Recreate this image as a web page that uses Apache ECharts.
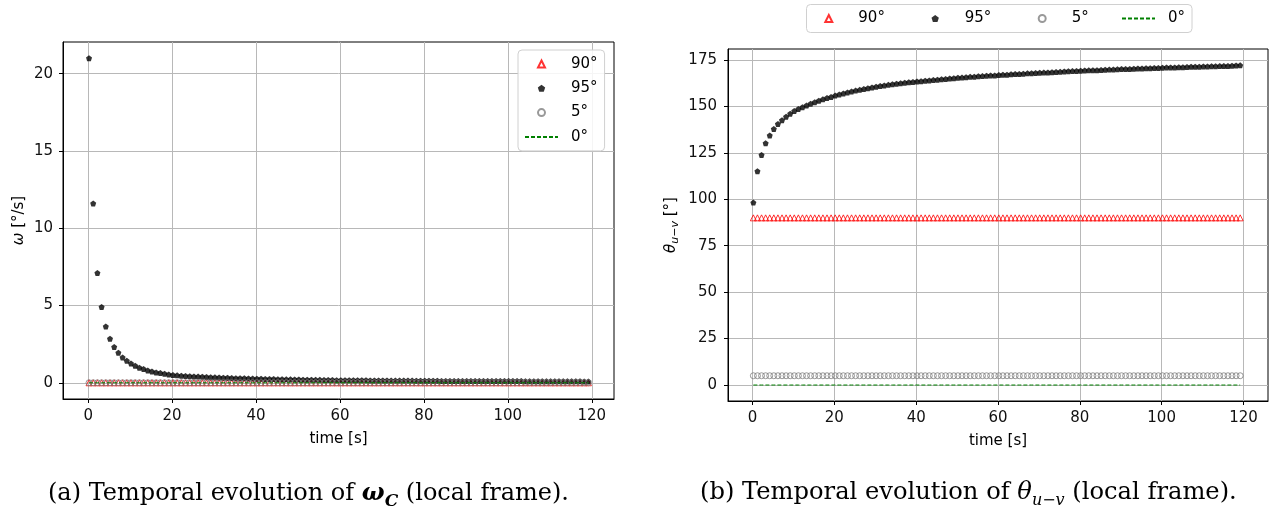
<!DOCTYPE html>
<html>
<head>
<meta charset="utf-8">
<script src="https://cdn.jsdelivr.net/npm/echarts@6/dist/echarts.min.js"></script>
<style>
html,body{margin:0;padding:0;background:#fff;}
#chart{width:1283px;height:510px;}
</style>
</head>
<body>
<div id="chart"></div>
<script>
// ---- data ----
const seriesNames = ['90°', '95°', '5°', '0°'];
const xTicks = [0, 20, 40, 60, 80, 100, 120];
const omegaTicks = [0, 5, 10, 15, 20];
const thetaTicks = [0, 25, 50, 75, 100, 125, 150, 175];

const times = [
  0.2, 1.2, 2.2, 3.2, 4.2, 5.2, 6.2, 7.2, 8.2, 9.2,
  10.2, 11.2, 12.2, 13.2, 14.2, 15.2, 16.2, 17.2, 18.2, 19.2,
  20.2, 21.2, 22.2, 23.2, 24.2, 25.2, 26.2, 27.2, 28.2, 29.2,
  30.2, 31.2, 32.2, 33.2, 34.2, 35.2, 36.2, 37.2, 38.2, 39.2,
  40.2, 41.2, 42.2, 43.2, 44.2, 45.2, 46.2, 47.2, 48.2, 49.2,
  50.2, 51.2, 52.2, 53.2, 54.2, 55.2, 56.2, 57.2, 58.2, 59.2,
  60.2, 61.2, 62.2, 63.2, 64.2, 65.2, 66.2, 67.2, 68.2, 69.2,
  70.2, 71.2, 72.2, 73.2, 74.2, 75.2, 76.2, 77.2, 78.2, 79.2,
  80.2, 81.2, 82.2, 83.2, 84.2, 85.2, 86.2, 87.2, 88.2, 89.2,
  90.2, 91.2, 92.2, 93.2, 94.2, 95.2, 96.2, 97.2, 98.2, 99.2,
  100.2, 101.2, 102.2, 103.2, 104.2, 105.2, 106.2, 107.2, 108.2, 109.2,
  110.2, 111.2, 112.2, 113.2, 114.2, 115.2, 116.2, 117.2, 118.2, 119.2
];

// omega for the 95° case
const omega95 = [
  21.0, 11.6, 7.1, 4.9, 3.64, 2.85, 2.31, 1.94, 1.64, 1.42,
  1.25, 1.10, 0.97, 0.89, 0.80, 0.73, 0.67, 0.63, 0.58, 0.54,
  0.50, 0.48, 0.46, 0.44, 0.43, 0.41, 0.40, 0.39, 0.37, 0.36,
  0.35, 0.34, 0.33, 0.32, 0.31, 0.30, 0.30, 0.29, 0.28, 0.27,
  0.26, 0.26, 0.25, 0.25, 0.24, 0.23, 0.23, 0.22, 0.22, 0.21,
  0.21, 0.20, 0.20, 0.20, 0.19, 0.19, 0.18, 0.18, 0.18, 0.17,
  0.17, 0.17, 0.17, 0.16, 0.16, 0.16, 0.16, 0.15, 0.15, 0.15,
  0.15, 0.15, 0.14, 0.14, 0.14, 0.14, 0.14, 0.14, 0.13, 0.13,
  0.13, 0.13, 0.13, 0.13, 0.12, 0.12, 0.12, 0.12, 0.12, 0.12,
  0.12, 0.12, 0.12, 0.11, 0.11, 0.11, 0.11, 0.11, 0.11, 0.11,
  0.11, 0.11, 0.11, 0.11, 0.10, 0.10, 0.10, 0.10, 0.10, 0.10,
  0.10, 0.10, 0.10, 0.10, 0.10, 0.10, 0.10, 0.10, 0.09, 0.09
];

// flat series at zero (omega for 90°, 5°, 0° and theta for 0°)
const zeroValues = [
  0, 0, 0, 0, 0, 0, 0, 0, 0, 0,
  0, 0, 0, 0, 0, 0, 0, 0, 0, 0,
  0, 0, 0, 0, 0, 0, 0, 0, 0, 0,
  0, 0, 0, 0, 0, 0, 0, 0, 0, 0,
  0, 0, 0, 0, 0, 0, 0, 0, 0, 0,
  0, 0, 0, 0, 0, 0, 0, 0, 0, 0,
  0, 0, 0, 0, 0, 0, 0, 0, 0, 0,
  0, 0, 0, 0, 0, 0, 0, 0, 0, 0,
  0, 0, 0, 0, 0, 0, 0, 0, 0, 0,
  0, 0, 0, 0, 0, 0, 0, 0, 0, 0,
  0, 0, 0, 0, 0, 0, 0, 0, 0, 0,
  0, 0, 0, 0, 0, 0, 0, 0, 0, 0
];

const theta95 = [
  98.2, 115.1, 123.9, 130.2, 134.3, 137.8, 140.5, 142.6, 144.4, 146.0,
  147.5, 148.6, 149.6, 150.5, 151.4, 152.3, 153.0, 153.8, 154.5, 155.1,
  155.8, 156.4, 156.9, 157.5, 158.0, 158.5, 158.9, 159.4, 159.8, 160.2,
  160.6, 161.0, 161.3, 161.6, 161.9, 162.2, 162.5, 162.7, 163.0, 163.2,
  163.4, 163.6, 163.8, 164.0, 164.2, 164.4, 164.6, 164.8, 165.0, 165.2,
  165.4, 165.5, 165.7, 165.9, 166.0, 166.2, 166.3, 166.5, 166.6, 166.7,
  166.9, 167.0, 167.1, 167.3, 167.4, 167.5, 167.6, 167.8, 167.9, 168.0,
  168.1, 168.2, 168.3, 168.4, 168.5, 168.6, 168.8, 168.9, 169.0, 169.1,
  169.2, 169.3, 169.4, 169.5, 169.5, 169.6, 169.7, 169.8, 169.9, 170.0,
  170.1, 170.1, 170.2, 170.3, 170.4, 170.4, 170.5, 170.6, 170.7, 170.7,
  170.8, 170.9, 170.9, 171.0, 171.1, 171.1, 171.2, 171.3, 171.3, 171.4,
  171.5, 171.5, 171.6, 171.6, 171.7, 171.8, 171.8, 171.9, 172.0, 172.1
];

const theta90 = [
  90, 90, 90, 90, 90, 90, 90, 90, 90, 90,
  90, 90, 90, 90, 90, 90, 90, 90, 90, 90,
  90, 90, 90, 90, 90, 90, 90, 90, 90, 90,
  90, 90, 90, 90, 90, 90, 90, 90, 90, 90,
  90, 90, 90, 90, 90, 90, 90, 90, 90, 90,
  90, 90, 90, 90, 90, 90, 90, 90, 90, 90,
  90, 90, 90, 90, 90, 90, 90, 90, 90, 90,
  90, 90, 90, 90, 90, 90, 90, 90, 90, 90,
  90, 90, 90, 90, 90, 90, 90, 90, 90, 90,
  90, 90, 90, 90, 90, 90, 90, 90, 90, 90,
  90, 90, 90, 90, 90, 90, 90, 90, 90, 90,
  90, 90, 90, 90, 90, 90, 90, 90, 90, 90
];

const theta5 = [
  5, 5, 5, 5, 5, 5, 5, 5, 5, 5,
  5, 5, 5, 5, 5, 5, 5, 5, 5, 5,
  5, 5, 5, 5, 5, 5, 5, 5, 5, 5,
  5, 5, 5, 5, 5, 5, 5, 5, 5, 5,
  5, 5, 5, 5, 5, 5, 5, 5, 5, 5,
  5, 5, 5, 5, 5, 5, 5, 5, 5, 5,
  5, 5, 5, 5, 5, 5, 5, 5, 5, 5,
  5, 5, 5, 5, 5, 5, 5, 5, 5, 5,
  5, 5, 5, 5, 5, 5, 5, 5, 5, 5,
  5, 5, 5, 5, 5, 5, 5, 5, 5, 5,
  5, 5, 5, 5, 5, 5, 5, 5, 5, 5,
  5, 5, 5, 5, 5, 5, 5, 5, 5, 5
];

// ---- build chart ----
const pairs = vals => times.map((t, i) => [t, vals[i]]);
const FONT = 'DejaVu Sans';
const PENTAGON = 'path://M0,-1 L0.951,-0.309 L0.588,0.809 L-0.588,0.809 L-0.951,-0.309 Z';
const TRIANGLE = 'path://M0,-1 L1,1 L-1,1 Z';

function seriesFor(idx, v90, v95, v5, v0) {
  return [
    { name: seriesNames[0], type: 'scatter', xAxisIndex: idx, yAxisIndex: idx, data: pairs(v90),
      symbol: 'triangle', symbolSize: 6,
      itemStyle: { color: 'rgba(255,255,255,0)', borderColor: '#ff0000', borderWidth: 1 } },
    { name: seriesNames[1], type: 'scatter', xAxisIndex: idx, yAxisIndex: idx, data: pairs(v95),
      symbol: PENTAGON, symbolSize: 6,
      itemStyle: { color: '#000000' } },
    { name: seriesNames[2], type: 'scatter', xAxisIndex: idx, yAxisIndex: idx, data: pairs(v5),
      symbol: 'circle', symbolSize: 6,
      itemStyle: { color: 'rgba(255,255,255,0)', borderColor: '#808080', borderWidth: 1 } },
    { name: seriesNames[3], type: 'line', xAxisIndex: idx, yAxisIndex: idx, data: pairs(v0),
      symbol: 'none', showSymbol: false,
      lineStyle: { color: '#008000', width: 1, type: [4, 2] },
      itemStyle: { color: 'rgba(0,0,0,0)', borderWidth: 0 } }
  ];
}

const gridLine = { show: true, lineStyle: { color: '#b8b8b8', width: 1 } };
const tickStyle = { show: true, inside: false, length: 4, lineStyle: { color: '#000', width: 1 } };
const axisLineStyle = { show: true, onZero: false, lineStyle: { color: '#000', width: 1 } };
const labelStyle = { color: '#111', fontSize: 15, fontFamily: FONT };

function xAxisFor(idx, min, max) {
  return {
    type: 'value', gridIndex: idx, min: min, max: max,
    name: 'time [s]', nameLocation: 'middle', nameGap: 33,
    nameTextStyle: { color: '#000', fontSize: 15, fontFamily: FONT },
    axisLine: axisLineStyle,
    axisTick: Object.assign({}, tickStyle, { customValues: xTicks }),
    axisLabel: Object.assign({}, labelStyle, { margin: 10, customValues: xTicks }),
    splitLine: gridLine
  };
}

const legendItems = [
  { name: seriesNames[0], icon: TRIANGLE },
  { name: seriesNames[1] },
  { name: seriesNames[2] },
  { name: seriesNames[3], itemStyle: { opacity: 0 } }
];

const legendText = { color: '#000', fontSize: 15, fontFamily: FONT, lineHeight: 18, padding: [0, 0, 0, 8] };

// left plot: one boxed vertical legend
const leftLegend = {
  orient: 'vertical', left: 518, top: 50, itemGap: 6.3,
  itemWidth: 33, itemHeight: 7, symbolKeepAspect: true,
  textStyle: legendText,
  backgroundColor: 'rgba(255,255,255,0.85)',
  borderColor: '#d0d0d0', borderWidth: 1, borderRadius: 4,
  padding: [5, 7, 5, 6],
  data: legendItems
};

// right plot: one legend per column, inside a common frame (graphic rect below)
const rightLegendLefts = [824.3, 931.5, 1037.7, 1121];
const rightLegends = legendItems.map((item, i) => ({
  orient: 'horizontal', left: rightLegendLefts[i], top: 9.5, padding: 0,
  itemWidth: 33, itemHeight: 7, symbolKeepAspect: true,
  textStyle: legendText,
  data: [item]
}));

const option = {
  animation: false,
  backgroundColor: '#ffffff',
  textStyle: { fontFamily: FONT },
  grid: [
    { left: 63, top: 42, width: 551, height: 357, show: true, borderColor: '#000', borderWidth: 1, containLabel: false, outerBoundsMode: 'none' },
    { left: 728, top: 49, width: 540, height: 352, show: true, borderColor: '#000', borderWidth: 1, containLabel: false, outerBoundsMode: 'none' }
  ],
  xAxis: [ xAxisFor(0, -6, 125.3), xAxisFor(1, -6, 126) ],
  yAxis: [
    {
      type: 'value', gridIndex: 0, min: -1.05, max: 22.05,
      name: '{w|ω}{n| [°/s]}', nameLocation: 'middle', nameRotate: 90, nameGap: 36,
      nameTextStyle: { color: '#000', fontSize: 15, fontFamily: FONT,
        rich: { w: { fontSize: 15, fontStyle: 'italic', fontFamily: FONT, color: '#000' },
                n: { fontSize: 15, fontFamily: FONT, color: '#000' } } },
      axisLine: axisLineStyle,
      axisTick: Object.assign({}, tickStyle, { customValues: omegaTicks }),
      axisLabel: Object.assign({}, labelStyle, { margin: 10, customValues: omegaTicks }),
      splitLine: gridLine
    },
    {
      type: 'value', gridIndex: 1, min: -8.6, max: 180.9,
      name: '{t|θ}{s|u−v}{n| [°]}', nameLocation: 'middle', nameRotate: 90, nameGap: 47,
      nameTextStyle: { color: '#000', fontSize: 15, fontFamily: FONT,
        rich: { t: { fontSize: 15, fontStyle: 'italic', fontFamily: FONT, color: '#000', lineHeight: 20 },
                s: { fontSize: 11, fontStyle: 'italic', fontFamily: FONT, color: '#000', lineHeight: 12, padding: [8, 0, 0, 0] },
                n: { fontSize: 15, fontFamily: FONT, color: '#000', lineHeight: 20 } } },
      axisLine: axisLineStyle,
      axisTick: Object.assign({}, tickStyle, { customValues: thetaTicks }),
      axisLabel: Object.assign({}, labelStyle, { margin: 11, customValues: thetaTicks }),
      splitLine: gridLine
    }
  ],
  legend: [leftLegend].concat(rightLegends),
  series: [].concat(
    seriesFor(0, zeroValues, omega95, zeroValues, zeroValues),
    seriesFor(1, theta90, theta95, theta5, zeroValues)
  ),
  graphic: [
    { type: 'rect', z: 1, shape: { x: 806.5, y: 4.5, width: 385.5, height: 28, r: 4 },
      style: { fill: 'rgba(255,255,255,0.85)', stroke: '#d0d0d0', lineWidth: 1 } },
    { type: 'text', left: 48, top: 477, z: 10,
      style: {
        text: '{n|(a) Temporal evolution of }{w|ω}{s|C}{n| (local frame).}',
        rich: {
          n: { fontFamily: 'DejaVu Serif', fontSize: 24, fill: '#000', lineHeight: 30 },
          w: { fontFamily: 'DejaVu Serif', fontSize: 24, fill: '#000', fontStyle: 'italic', fontWeight: 'bold', lineHeight: 30 },
          s: { fontFamily: 'DejaVu Serif', fontSize: 17, fill: '#000', fontStyle: 'italic', fontWeight: 'bold', lineHeight: 16, padding: [16, 0, 0, 0] }
        }
      } },
    { type: 'text', left: 700, top: 477, z: 10,
      style: {
        text: '{n|(b) Temporal evolution of }{w|θ}{s|u−v}{n| (local frame).}',
        rich: {
          n: { fontFamily: 'DejaVu Serif', fontSize: 24.2, fill: '#000', lineHeight: 30 },
          w: { fontFamily: 'DejaVu Serif', fontSize: 24.2, fill: '#000', fontStyle: 'italic', lineHeight: 30 },
          s: { fontFamily: 'DejaVu Serif', fontSize: 16, fill: '#000', fontStyle: 'italic', lineHeight: 16, padding: [16, 0, 0, 0] }
        }
      } }
  ]
};

const chart = echarts.init(document.getElementById('chart'), null, { renderer: 'canvas' });
chart.setOption(option);
</script>
</body>
</html>
